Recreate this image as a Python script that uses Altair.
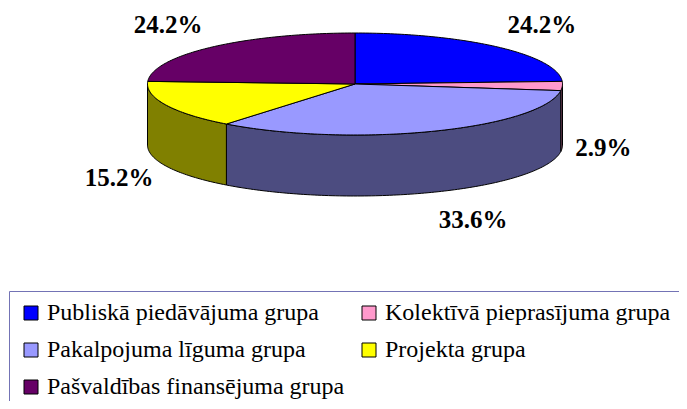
import math
import numpy as np
import pandas as pd
import altair as alt

# ---- data ----
groups = [
    "Publiskā piedāvājuma grupa",
    "Kolektīvā pieprasījuma grupa",
    "Pakalpojuma līguma grupa",
    "Projekta grupa",
    "Pašvaldības finansējuma grupa",
]
shares = [24.2, 2.9, 33.6, 15.2, 24.2]
top_colors = ["#0000FF", "#FF99CC", "#9999FF", "#FFFF00", "#660066"]
side_colors = ["#000080", "#804C66", "#4C4C80", "#808000", "#330033"]
# legend fills its columns top-down: this order reads row by row as in the reference
legend_order = [0, 2, 4, 1, 3]

FONT = "Liberation Serif"
FS = 25          # pie labels
LEG_FS = 24      # legend labels

# ---- 3D pie geometry (plot-area pixels) ----
CX, CY, RX, RY, DEPTH = 347.0, 76.0, 207.5, 51.0, 61.0
GAP_X, GAP_Y = 13.0, 30.0


def pt(theta_deg, dy=0.0):
    t = math.radians(theta_deg)
    return [CX + RX * math.sin(t), CY - RY * math.cos(t) + dy]


def arc(a, b, dy=0.0):
    n = max(2, int(abs(b - a)) + 2)
    return [pt(t, dy) for t in np.linspace(a, b, n)]


total = sum(shares)
tops, sides, labels = [], [], []
start = 0.0
for name, v, ct, cs in zip(groups, shares, top_colors, side_colors):
    end = start + v / total * 360.0
    ring = [[CX, CY]] + arc(start, end) + [[CX, CY]]
    tops.append({"type": "Feature", "properties": {"name": name},
                 "geometry": {"type": "Polygon", "coordinates": [ring]}})
    lo, hi = max(start, 90.0), min(end, 270.0)
    if hi > lo:
        sring = arc(lo, hi) + arc(hi, lo, DEPTH)
        sring.append(sring[0])
        sides.append({"type": "Feature", "properties": {"name": name, "fill": cs},
                      "geometry": {"type": "Polygon", "coordinates": [sring]}})
    txt = f"{v:.1f}%"
    half_w = 0.56 * FS * len(txt) / 2.0
    mid = math.radians((start + end) / 2.0)
    s, c = math.sin(mid), math.cos(mid)
    lx = CX + RX * s + math.copysign(GAP_X * abs(s) + half_w, s)
    ly = CY - (RY + GAP_Y) * c + (DEPTH if c < 0 else 0.0)
    labels.append({"lon": lx, "lat": ly, "label": txt})
    start = end

proj = dict(type="identity", scale=1, translate=[0, 0])

side_layer = alt.Chart(alt.InlineData(values=sides)).mark_geoshape(
    stroke="black", strokeWidth=1
).encode(
    color=alt.Color("properties.fill:N", scale=None)
).project(**proj)

top_layer = alt.Chart(alt.InlineData(values=tops)).mark_geoshape(
    stroke="black", strokeWidth=1
).encode(
    color=alt.Color(
        "properties.name:N",
        scale=alt.Scale(domain=[groups[i] for i in legend_order],
                        range=[top_colors[i] for i in legend_order]),
        legend=alt.Legend(
            title=None,
            orient="none",
            legendX=1,
            legendY=283,
            columns=2,
            symbolType="square",
            symbolSize=196,
            symbolStrokeColor="black",
            symbolStrokeWidth=1,
            symbolOpacity=1,
            labelFont=FONT,
            labelFontSize=LEG_FS,
            labelColor="black",
            labelOffset=4,
            labelLimit=500,
            rowPadding=13,
            columnPadding=12,
            padding=10,
            strokeColor="#7373B5",
        ),
    )
).project(**proj)

text_layer = alt.Chart(pd.DataFrame(labels)).mark_text(
    font=FONT, fontSize=FS, fontWeight="bold", color="black",
    align="center", baseline="middle"
).encode(
    longitude="lon:Q", latitude="lat:Q", text="label:N"
).project(**proj)

chart = alt.layer(side_layer, top_layer, text_layer).resolve_scale(
    color="independent"
).properties(
    width=671, height=393, padding=0,
    autosize=alt.AutoSizeParams(type="none"),
).configure_view(stroke="transparent")

chart.save("out.html", embed_options={"renderer": "svg", "actions": False})
